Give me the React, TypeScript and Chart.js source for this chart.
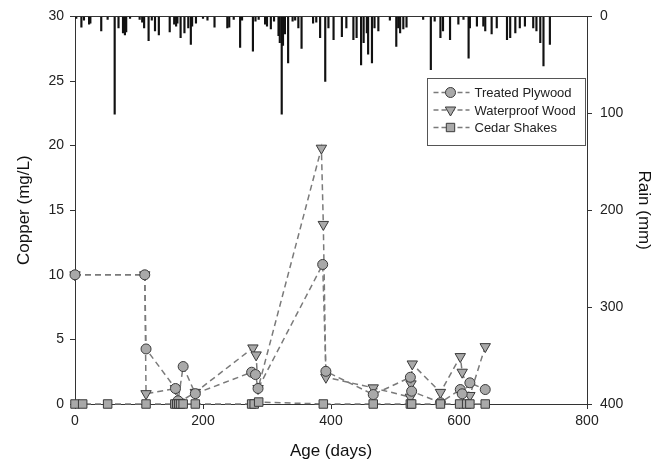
import React, { useEffect, useRef } from 'react';
import { Chart, registerables } from 'chart.js';
Chart.register(...registerables);

// ---- data ----
const plywoodDays = [0, 109, 111, 157, 161, 169, 188, 276, 282, 286, 387, 392, 466, 524, 526, 571, 602, 605, 617, 641];
const plywoodCu = [10, 10, 4.26, 1.2, 0.25, 2.9, 0.8, 2.46, 2.28, 1.2, 10.8, 2.53, 0.73, 2.07, 0.99, 0.1, 1.12, 0.79, 1.64, 1.12];

const waterproofDays = [0, 109, 111, 157, 163, 188, 278, 283, 286, 385, 388, 392, 466, 524, 525, 527, 571, 602, 605, 617, 641];
const waterproofCu = [10, 10, 0.8, 1.2, 0.15, 0.9, 4.34, 3.8, 1.2, 19.8, 13.9, 2.07, 1.25, 0.53, 1.56, 3.1, 0.9, 3.67, 2.46, 0.66, 4.44];

const cedarDays = [0, 12, 51, 111, 156, 159, 162, 165, 169, 188, 276, 280, 287, 388, 466, 524, 526, 571, 601, 612, 617, 641];
const cedarCu = [0, 0, 0, 0, 0, 0, 0, 0, 0, 0, 0, 0, 0.15, 0, 0, 0, 0, 0, 0, 0, 0, 0];

const rainDays = [2, 10, 14, 22, 24, 41, 51, 62, 68, 75, 78, 80, 86, 101, 105, 108, 115, 120, 125, 131, 148, 155, 158, 160, 165, 171, 177, 181, 183, 189, 200, 207, 218, 238, 241, 248, 258, 261, 278, 282, 287, 297, 300, 306, 311, 318, 320, 323, 325, 328, 333, 340, 344, 349, 354, 372, 377, 383, 391, 396, 404, 417, 424, 435, 440, 447, 451, 456, 458, 464, 468, 474, 492, 502, 505, 508, 513, 518, 544, 556, 562, 571, 575, 586, 599, 607, 615, 617, 628, 638, 641, 651, 659, 675, 680, 688, 695, 703, 716, 721, 727, 732, 742];
const rainMm = [2, 11, 4, 8, 7, 15, 3, 101, 12, 17, 19, 16, 2, 3, 6, 12, 25, 4, 15, 19, 16, 8, 10, 7, 22, 17, 12, 29, 10, 7, 2, 4, 11, 12, 11, 3, 32, 4, 36, 5, 3, 8, 10, 13, 5, 20, 27, 101, 30, 18, 48, 5, 4, 12, 33, 7, 6, 22, 67, 12, 24, 21, 12, 24, 22, 50, 27, 17, 39, 48, 12, 15, 4, 31, 12, 17, 13, 11, 3, 55, 5, 22, 15, 24, 8, 3, 43, 12, 10, 10, 15, 18, 12, 24, 22, 17, 12, 10, 12, 15, 27, 51, 29];

const seriesNames = ['Treated Plywood', 'Waterproof Wood', 'Cedar Shakes'];
const xTicks = [0, 200, 400, 600, 800];

const FONT = 'Arial, "Liberation Sans", sans-serif';
const LINE = '#7a7a7a';
const FILL = '#a9a9a9';
const EDGE = '#3a3a3a';
const AXIS = '#333';

const toXY = (xs: number[], ys: number[]) => xs.map((x, i) => ({ x, y: ys[i] }));

function drawMarker(ctx: CanvasRenderingContext2D, style: string, x: number, y: number) {
  ctx.beginPath();
  if (style === 'circle') {
    ctx.arc(x, y, 5, 0, Math.PI * 2);
  } else if (style === 'triangle') {
    const r = 6;
    for (let k = 0; k < 3; k++) {
      const a = Math.PI / 2 + k * (2 * Math.PI / 3);
      const px = x + r * Math.cos(a);
      const py = y + r * Math.sin(a);
      if (k === 0) ctx.moveTo(px, py); else ctx.lineTo(px, py);
    }
    ctx.closePath();
  } else {
    ctx.rect(x - 4.2, y - 4.2, 8.4, 8.4);
  }
  ctx.fillStyle = FILL;
  ctx.fill();
  ctx.strokeStyle = EDGE;
  ctx.lineWidth = 1;
  ctx.stroke();
}

const boxLegend = {
  id: 'boxLegend',
  afterDraw(chart: any) {
    const ctx: CanvasRenderingContext2D = chart.ctx;
    const ca = chart.chartArea;
    ctx.save();
    // top frame line
    ctx.strokeStyle = AXIS;
    ctx.lineWidth = 1;
    ctx.beginPath();
    ctx.moveTo(ca.left, Math.round(ca.top) + 0.5);
    ctx.lineTo(ca.right, Math.round(ca.top) + 0.5);
    ctx.stroke();

    const bw = 158, bh = 67;
    const bx = Math.round(ca.right) - bw - 2 + 0.5;
    const by = Math.round(ca.top) + 62 + 0.5;
    ctx.fillStyle = '#fff';
    ctx.fillRect(bx, by, bw, bh);
    ctx.strokeStyle = '#555';
    ctx.strokeRect(bx, by, bw, bh);
    const styles = ['circle', 'triangle', 'rect'];
    ctx.font = `13px ${FONT}`;
    ctx.textBaseline = 'middle';
    for (let i = 0; i < 3; i++) {
      const yy = by + 14 + i * 17.5;
      ctx.strokeStyle = LINE;
      ctx.lineWidth = 1.5;
      ctx.setLineDash([5, 3]);
      ctx.beginPath();
      ctx.moveTo(bx + 6, yy);
      ctx.lineTo(bx + 42, yy);
      ctx.stroke();
      ctx.setLineDash([]);
      drawMarker(ctx, styles[i], bx + 23, yy);
      ctx.fillStyle = '#222';
      ctx.fillText(seriesNames[i], bx + 47, yy + 1);
    }
    ctx.restore();
  },
};

export default function App() {
  const ref = useRef<HTMLCanvasElement>(null);
  useEffect(() => {
    Chart.defaults.font.family = FONT;
    const lineCommon = {
      type: 'line' as const,
      borderColor: LINE,
      borderWidth: 1.5,
      borderDash: [6, 4],
      pointBackgroundColor: FILL,
      pointBorderColor: EDGE,
      pointBorderWidth: 1,
      fill: false,
      tension: 0,
      clip: false as any,
      xAxisID: 'x',
      yAxisID: 'y',
    };
    const chart = new Chart(ref.current!, {
      type: 'line',
      data: {
        datasets: [
          {
            ...lineCommon,
            label: seriesNames[0],
            data: toXY(plywoodDays, plywoodCu),
            pointStyle: 'circle',
            pointRadius: 5,
            order: 1,
          },
          {
            ...lineCommon,
            label: seriesNames[1],
            data: toXY(waterproofDays, waterproofCu),
            pointStyle: 'triangle',
            pointRotation: 180,
            pointRadius: 6,
            order: 2,
          },
          {
            ...lineCommon,
            label: seriesNames[2],
            data: toXY(cedarDays, cedarCu),
            pointStyle: 'rect',
            pointRadius: 6,
            order: 0,
          },
          {
            type: 'bar' as const,
            label: 'Rain',
            data: toXY(rainDays, rainMm),
            backgroundColor: '#111',
            borderWidth: 0,
            barThickness: 1.5,
            xAxisID: 'x',
            yAxisID: 'yRain',
            order: 5,
          } as any,
        ],
      },
      options: {
        responsive: false,
        animation: false,
        layout: { padding: { top: 15, left: 0, right: 0, bottom: 0 } },
        plugins: {
          legend: { display: false },
          tooltip: { enabled: false },
        },
        scales: {
          x: {
            type: 'linear',
            position: 'bottom',
            min: 0,
            max: 800,
            offset: false,
            afterBuildTicks: (s: any) => { s.ticks = xTicks.map((v) => ({ value: v })); },
            ticks: { color: '#222', font: { size: 14 }, padding: 4, maxRotation: 0 },
            grid: { offset: false, drawOnChartArea: false, drawTicks: true, tickLength: 5, color: AXIS },
            border: { display: true, color: AXIS, width: 1 },
            title: { display: true, text: 'Age (days)', color: '#111', font: { size: 17 }, padding: { top: 0, bottom: 6 } },
            afterFit: (s: any) => { s.height = 64; },
          },
          y: {
            type: 'linear',
            position: 'left',
            min: 0,
            max: 30,
            ticks: { stepSize: 5, color: '#222', font: { size: 14 }, padding: 6 },
            grid: { offset: false, drawOnChartArea: false, drawTicks: true, tickLength: 5, color: AXIS },
            border: { display: true, color: AXIS, width: 1 },
            title: { display: true, text: 'Copper (mg/L)', color: '#111', font: { size: 17 }, padding: { top: 14, bottom: 0 } },
            afterFit: (s: any) => { s.width = 75; },
          },
          yRain: {
            type: 'linear',
            position: 'right',
            reverse: true,
            min: 0,
            max: 400,
            ticks: { stepSize: 100, color: '#222', font: { size: 14 }, padding: 8 },
            grid: { offset: false, drawOnChartArea: false, drawTicks: true, tickLength: 5, color: AXIS },
            border: { display: true, color: AXIS, width: 1 },
            title: { display: true, text: 'Rain (mm)', color: '#111', font: { size: 17 }, padding: { top: 4, bottom: 0 } },
            afterFit: (s: any) => { s.width = 71; },
          },
        },
      } as any,
      plugins: [boxLegend],
    });
    return () => chart.destroy();
  }, []);
  return (
    <div style={{ position: 'absolute', left: 0, top: 0, width: 658, height: 468, background: '#fff' }}>
      <canvas ref={ref} width={658} height={468} style={{ display: 'block' }} />
    </div>
  );
}
